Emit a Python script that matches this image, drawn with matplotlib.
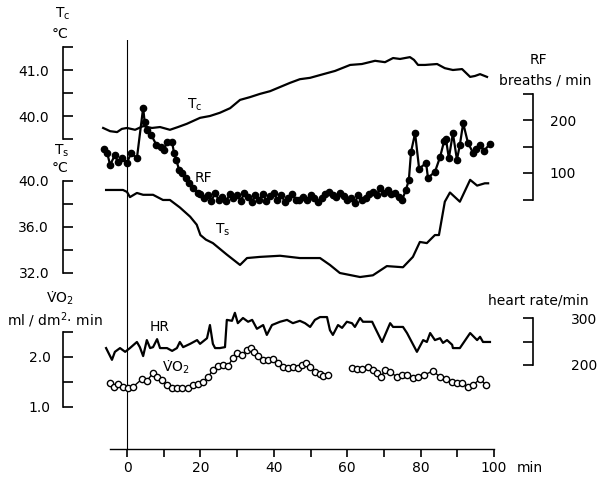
"""Tc, Ts, RF, HR and VO2 time courses on stacked bracket axes."""

import numpy as np
import matplotlib

matplotlib.use("Agg")
import matplotlib.pyplot as plt

FIG_W, FIG_H = 612, 479
X_LEFT_PX, X_RIGHT_PX = 63, 533
T0_PX, PX_PER_MIN = 127, 3.67

# core temperature (deg C)
tc_time = [-6.5, -4.6, -2.7, -1.4, 0.0, 2.2, 4.4, 6.8, 9.0, 11.7, 13.9, 16.3, 19.9,
           22.6, 25.3, 28.1, 30.8, 33.5, 36.2, 39.0, 41.7, 44.4, 47.1, 49.9, 52.6,
           56.7, 60.8, 64.0, 67.6, 70.3, 72.5, 74.4, 77.1, 78.2, 79.3, 81.2, 84.5,
           86.6, 88.8, 91.3, 93.5, 94.8, 96.2, 98.1]
tc_value = [39.74, 39.67, 39.65, 39.72, 39.74, 39.70, 39.78, 39.74, 39.76, 39.70,
            39.76, 39.83, 39.96, 40.00, 40.07, 40.17, 40.35, 40.41, 40.48, 40.54,
            40.63, 40.72, 40.80, 40.83, 40.89, 40.98, 41.11, 41.13, 41.20, 41.17,
            41.26, 41.24, 41.28, 41.22, 41.11, 41.11, 41.13, 41.04, 41.00, 41.02,
            40.85, 40.87, 40.91, 40.85]

# skin temperature (deg C)
ts_time = [-5.7, -1.1, 0.0, 0.8, 2.7, 4.4, 7.1, 9.8, 11.7, 14.4, 17.2, 19.0, 20.0,
           21.5, 23.4, 27.2, 30.8, 32.7, 36.2, 41.7, 47.1, 52.6, 55.3, 58.0, 63.5,
           67.0, 70.8, 75.2, 77.9, 79.8, 81.7, 83.9, 85.0, 86.6, 88.0, 90.7, 93.5,
           95.4, 97.5, 98.4]
ts_value = [39.22, 39.22, 39.05, 38.60, 38.96, 38.80, 38.80, 38.35, 38.35, 37.70,
            36.90, 36.20, 35.30, 34.90, 34.60, 33.60, 32.70, 33.30, 33.40, 33.50,
            33.30, 33.30, 32.70, 32.00, 31.65, 31.80, 32.60, 32.50, 33.40, 34.70,
            34.60, 35.30, 35.30, 38.20, 39.00, 38.20, 40.10, 39.60, 39.80, 39.80]

# respiratory frequency (breaths/min)
rf_time = [-6.3, -5.4, -4.6, -3.3, -2.5, -1.4, 0.0, 1.1, 2.7, 4.4, 4.8, 5.5, 6.6,
           8.0, 9.3, 10.0, 10.9, 12.3, 12.8, 13.4, 14.2, 15.0, 16.0, 16.9, 18.0,
           19.3, 20, 21, 22, 23, 24, 25, 26, 27, 28, 29, 30, 31, 32, 33, 34, 35,
           36, 37, 38, 39, 40, 41, 42, 43, 44, 45, 46, 47, 48, 49, 50, 51, 52, 53,
           54, 55, 56, 57, 58, 59, 60, 61, 62, 63, 64, 65, 66, 67, 68, 69, 70, 71,
           72, 73, 74, 75, 76, 76.8, 77.4, 78.5, 79.6, 81.5, 82.0, 83.9, 85.3,
           86.4, 86.9, 87.7, 88.8, 89.9, 90.7, 91.6, 92.9, 94.3, 95.1, 96.2, 97.3,
           98.9]
rf_value = [145, 138, 115, 134, 121, 128, 119, 138, 128, 223, 197, 181, 172, 153,
            149, 143, 158, 158, 138, 125, 106, 100, 91, 81, 72, 62, 60, 52, 58, 48,
            62, 50, 55, 47, 60, 52, 58, 48, 62, 54, 46, 58, 50, 60, 48, 56, 62, 50,
            58, 46, 52, 60, 50, 49, 55, 50, 58, 52, 45, 53, 60, 64, 58, 55, 62, 56,
            49, 52, 43, 58, 50, 52, 60, 64, 58, 72, 62, 68, 60, 63, 55, 50, 68, 87,
            140, 175, 108, 119, 91, 102, 130, 160, 164, 128, 175, 125, 153, 194,
            157, 138, 145, 153, 142, 155]

# heart rate (beats/min)
hr_time = [-5.7, -4.1, -3.3, -1.9, -0.5, 0.8, 2.7, 3.5, 4.4, 5.4, 6.3, 7.1, 8.2,
           9.0, 10.9, 12.3, 13.6, 14.4, 15.3, 17.2, 19.1, 19.9, 21.8, 22.6, 23.4,
           24.0, 25.3, 26.7, 27.2, 28.6, 29.4, 30.2, 31.6, 33.0, 34.1, 35.4, 37.1,
           38.1, 39.5, 41.7, 43.6, 45.2, 47.1, 48.5, 49.9, 51.2, 52.6, 53.4, 54.5,
           55.3, 56.1, 57.5, 58.6, 59.9, 61.3, 62.1, 63.5, 64.3, 66.8, 67.6, 69.5,
           71.7, 72.5, 75.2, 76.3, 79.0, 80.7, 81.7, 82.6, 83.9, 85.3, 86.1, 87.2,
           88.6, 88.8, 90.7, 93.5, 95.4, 96.2, 97.0, 98.9]
hr_value = [236, 211, 228, 236, 228, 236, 249, 238, 219, 253, 236, 238, 255, 236,
            236, 230, 236, 249, 238, 245, 253, 245, 257, 285, 245, 236, 236, 238,
            296, 294, 311, 289, 300, 292, 296, 277, 285, 264, 285, 292, 296, 289,
            294, 289, 281, 296, 302, 302, 302, 274, 264, 285, 279, 292, 289, 281,
            300, 292, 292, 279, 249, 289, 281, 281, 268, 228, 253, 249, 268, 253,
            257, 247, 253, 243, 236, 236, 268, 253, 260, 249, 249]

# oxygen consumption (ml/dm2 min), nan marks the gap in the record
vo2_time = [-4.6, -3.5, -2.5, -1.1, 0.3, 1.6, 4.1, 5.4, 7.1, 8.2, 9.5, 10.9, 12.3,
            13.6, 15.0, 16.6, 18.0, 19.3, 20.7, 22.1, 23.4, 24.8, 26.2, 27.5, 28.9,
            30.0, 31.3, 32.7, 33.8, 34.6, 35.7, 37.1, 38.4, 39.8, 41.1, 42.5, 43.9,
            45.2, 46.6, 47.7, 48.8, 49.9, 51.2, 52.6, 53.4, 54.8, 58.0, 61.3, 62.7,
            64.0, 65.7, 67.0, 68.1, 69.2, 70.3, 71.7, 73.6, 74.9, 76.3, 77.9, 79.3,
            80.9, 83.4, 85.3, 86.9, 88.6, 89.9, 91.3, 92.9, 94.3, 96.2, 97.8]
vo2_value = [1.48, 1.40, 1.46, 1.40, 1.38, 1.40, 1.56, 1.52, 1.68, 1.60, 1.54, 1.44,
             1.38, 1.38, 1.38, 1.38, 1.44, 1.46, 1.50, 1.60, 1.74, 1.82, 1.84, 1.82,
             1.98, 2.08, 2.04, 2.14, 2.18, 2.10, 2.02, 1.94, 1.94, 1.96, 1.88, 1.80,
             1.78, 1.80, 1.78, 1.84, 1.88, 1.80, 1.70, 1.66, 1.62, 1.64, np.nan,
             1.78, 1.76, 1.76, 1.80, 1.74, 1.68, 1.60, 1.74, 1.70, 1.60, 1.64, 1.64,
             1.58, 1.60, 1.64, 1.72, 1.60, 1.56, 1.50, 1.48, 1.48, 1.40, 1.44, 1.56,
             1.44]

time_ticks = list(range(0, 101, 10))
time_labels = ["0", "", "20", "", "40", "", "60", "", "80", "", "100"]

XMIN = -(T0_PX - X_LEFT_PX) / PX_PER_MIN
XMAX = (X_RIGHT_PX - T0_PX) / PX_PER_MIN
LW = 1.6
FS = 10
VO2_TEXT = "V\u0307O$_\\mathregular{2}$"


def fx(px):
    return px / FIG_W


def fy(py):
    return 1 - py / FIG_H


def add_panel(fig, top_px, bottom_px, side):
    ax = fig.add_axes([fx(X_LEFT_PX), fy(bottom_px), fx(X_RIGHT_PX - X_LEFT_PX),
                       (bottom_px - top_px) / FIG_H])
    ax.patch.set_visible(False)
    ax.set_xlim(XMIN, XMAX)
    ax.set_xticks([])
    for name, spine in ax.spines.items():
        spine.set_visible(name == side)
        spine.set_linewidth(1.2)
    if side == "right":
        ax.yaxis.tick_right()
    ax.tick_params(axis="y", direction="in", length=7, width=1.2, labelsize=FS)
    return ax


def label(fig, x, y, s, **kw):
    fig.text(fx(x), fy(y), s, ha="center", va="center", fontsize=FS, **kw)


def main():
    fig = plt.figure(figsize=(FIG_W / 100, FIG_H / 100), dpi=100)

    # time axis and the zero line
    base = fig.add_axes([fx(X_LEFT_PX), fy(449), fx(X_RIGHT_PX - X_LEFT_PX), (449 - 40) / FIG_H])
    base.patch.set_visible(False)
    base.set_xlim(XMIN, XMAX)
    base.set_yticks([])
    for name, spine in base.spines.items():
        spine.set_visible(name == "bottom")
    base.spines["bottom"].set_bounds(-4.6, 100)
    base.spines["bottom"].set_linewidth(1.0)
    base.set_xticks(time_ticks)
    base.set_xticklabels(time_labels)
    base.tick_params(axis="x", direction="out", length=6, width=1.2, pad=3, labelsize=FS)
    base.axvline(0, color="black", lw=0.8)
    label(fig, 530, 468, "min")

    # Tc
    ax = add_panel(fig, 47, 139, "left")
    ax.set_ylim(39.5, 41.5)
    ax.set_yticks([39.5, 40.0, 40.5, 41.0, 41.5])
    ax.set_yticklabels(["", "40.0", "", "41.0", ""])
    ax.tick_params(axis="y", pad=10)
    ax.plot(tc_time, tc_value, color="black", lw=LW, clip_on=False)

    # Ts
    ax = add_panel(fig, 181, 273, "left")
    ax.set_ylim(32, 40)
    ax.set_yticks([32, 34, 36, 38, 40])
    ax.set_yticklabels(["32.0", "", "36.0", "", "40.0"])
    ax.tick_params(axis="y", pad=10)
    ax.plot(ts_time, ts_value, color="black", lw=LW, clip_on=False)

    # RF
    ax = add_panel(fig, 93.5, 199.5, "right")
    ax.set_ylim(50, 250)
    ax.set_yticks([50, 100, 150, 200, 250])
    ax.set_yticklabels(["", "100", "", "200", ""])
    ax.tick_params(axis="y", pad=12)
    ax.plot(rf_time, rf_value, color="black", lw=LW, marker="o", ms=4.5, clip_on=False)

    # HR
    ax = add_panel(fig, 318, 365, "right")
    ax.set_ylim(200, 300)
    ax.set_yticks([200, 250, 300])
    ax.set_yticklabels(["200", "", "300"])
    ax.tick_params(axis="y", pad=27)
    ax.plot(hr_time, hr_value, color="black", lw=LW, clip_on=False)

    # VO2
    ax = add_panel(fig, 332, 407, "left")
    ax.set_ylim(1.0, 2.5)
    ax.set_yticks([1.0, 1.5, 2.0, 2.5])
    ax.set_yticklabels(["1.0", "", "2.0", ""])
    ax.tick_params(axis="y", pad=9)
    ax.plot(vo2_time, vo2_value, color="black", lw=1.0, marker="o", ms=4.5,
            mfc="white", mew=1.0, clip_on=False)

    # axis titles and curve names
    label(fig, 63, 14, r"T$_\mathregular{c}$")
    label(fig, 60, 34, "°C")
    label(fig, 62, 151, r"T$_\mathregular{s}$")
    label(fig, 60, 168, "°C")
    label(fig, 60, 298, VO2_TEXT)
    label(fig, 55, 320, r"ml / dm$^\mathregular{2}$$\cdot$ min")
    label(fig, 538, 60, "RF")
    label(fig, 545, 80, "breaths / min")
    label(fig, 538, 301, "heart rate/min")
    label(fig, 195, 105, r"T$_\mathregular{c}$")
    label(fig, 203, 178, "RF")
    label(fig, 223, 230, r"T$_\mathregular{s}$")
    label(fig, 160, 327, "HR")
    label(fig, 176, 367, VO2_TEXT)

    fig.savefig("out.png", dpi=100)


if __name__ == "__main__":
    main()
